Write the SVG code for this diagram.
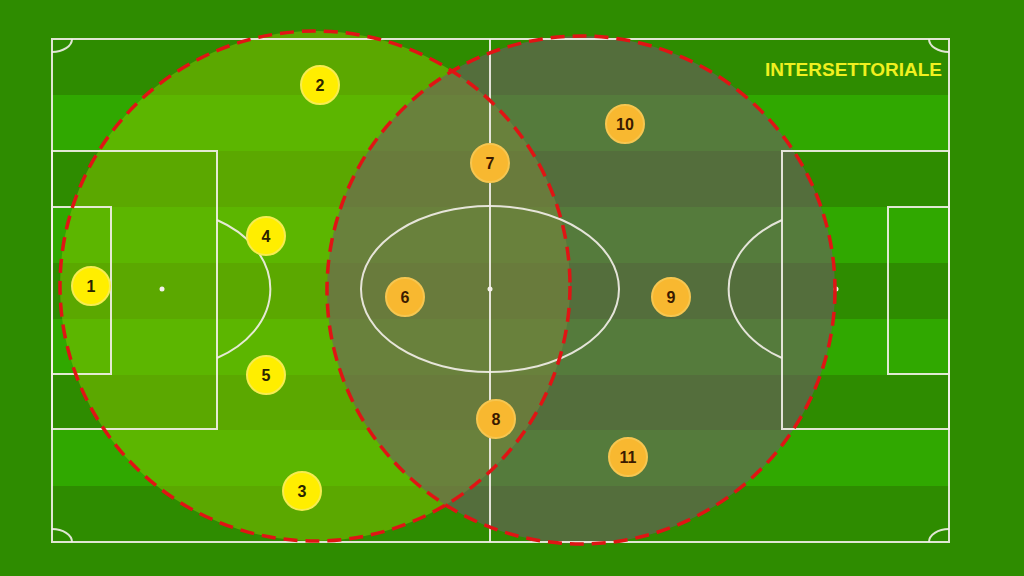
<svg xmlns="http://www.w3.org/2000/svg" width="1024" height="576" viewBox="0 0 1024 576">
<style>
.stripe{fill:#30a800}
.line{fill:none;stroke:#f4f0ea;stroke-width:2;stroke-opacity:0.9}
.zone{stroke:#e01414;stroke-width:3.5;stroke-dasharray:14 8}
.py circle{fill:#ffee00;stroke:#f6ec50;stroke-width:2}
.po circle{fill:#f8b830;stroke:#f6c650;stroke-width:2}
.num{font-family:"Liberation Sans",Arial,sans-serif;font-size:16px;font-weight:bold;text-anchor:middle;dominant-baseline:central}
.py text{fill:#2a2400}
.po text{fill:#3a1a00}
</style>
<rect width="1024" height="576" fill="#2e8c00"/>
<g id="stripes">
<rect class="stripe" x="52" y="95" width="897" height="56"/>
<rect class="stripe" x="52" y="207" width="897" height="56"/>
<rect class="stripe" x="52" y="319" width="897" height="56"/>
<rect class="stripe" x="52" y="430" width="897" height="56"/>
</g>
<g id="zones">
<circle cx="315" cy="286" r="255" fill="#88c400" fill-opacity="0.5"/>
<circle cx="581" cy="290" r="254" fill="#75556d" fill-opacity="0.55"/>
</g>
<g id="pitch">
<rect class="line" x="52" y="39" width="897" height="503"/>
<line class="line" x1="490" y1="39" x2="490" y2="542"/>
<ellipse class="line" cx="490" cy="289" rx="129" ry="83"/>
<circle cx="490" cy="289" r="2.5" fill="#f4f0ea"/>
<rect class="line" x="52" y="151" width="165" height="278"/>
<rect class="line" x="52" y="207" width="59" height="167"/>
<circle cx="162" cy="289" r="2.5" fill="#f4f0ea"/>
<path class="line" d="M217 220 A108 80 0 0 1 217 358"/>
<rect class="line" x="782" y="151" width="167" height="278"/>
<rect class="line" x="888" y="207" width="61" height="167"/>
<circle cx="836" cy="289" r="2.5" fill="#f4f0ea"/>
<path class="line" d="M782 220 A108 80 0 0 0 782 358"/>
<path class="line" d="M72 39 A20 13 0 0 1 52 52"/>
<path class="line" d="M52 529 A20 13 0 0 1 72 542"/>
<path class="line" d="M929 39 A20 13 0 0 0 949 52"/>
<path class="line" d="M949 529 A20 13 0 0 0 929 542"/>
</g>
<g id="connectors">
<circle class="zone" cx="315" cy="286" r="255" fill="none"/>
<circle class="zone" cx="581" cy="290" r="254" fill="none"/>
</g>
<g id="p1" class="py"><circle cx="91" cy="286" r="19"/><text class="num" x="91" y="286">1</text></g>
<g id="p2" class="py"><circle cx="320" cy="85" r="19"/><text class="num" x="320" y="85">2</text></g>
<g id="p3" class="py"><circle cx="302" cy="491" r="19"/><text class="num" x="302" y="491">3</text></g>
<g id="p4" class="py"><circle cx="266" cy="236" r="19"/><text class="num" x="266" y="236">4</text></g>
<g id="p5" class="py"><circle cx="266" cy="375" r="19"/><text class="num" x="266" y="375">5</text></g>
<g id="p6" class="po"><circle cx="405" cy="297" r="19"/><text class="num" x="405" y="297">6</text></g>
<g id="p7" class="po"><circle cx="490" cy="163" r="19"/><text class="num" x="490" y="163">7</text></g>
<g id="p8" class="po"><circle cx="496" cy="419" r="19"/><text class="num" x="496" y="419">8</text></g>
<g id="p9" class="po"><circle cx="671" cy="297" r="19"/><text class="num" x="671" y="297">9</text></g>
<g id="p10" class="po"><circle cx="625" cy="124" r="19"/><text class="num" x="625" y="124">10</text></g>
<g id="p11" class="po"><circle cx="628" cy="457" r="19"/><text class="num" x="628" y="457">11</text></g>
<g id="title"><text x="942" y="76" text-anchor="end" font-family="'Liberation Sans',Arial,sans-serif" font-size="19" font-weight="bold" fill="#f0f020">INTERSETTORIALE</text></g>
</svg>
